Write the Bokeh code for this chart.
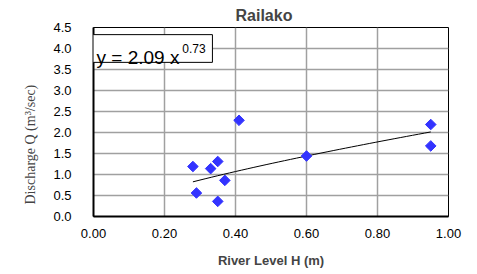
from bokeh.plotting import figure
from bokeh.models import (Range1d, SingleIntervalTicker, NumeralTickFormatter,
                          BoxAnnotation, Label, Title)
from bokeh.embed import file_html
from bokeh.resources import INLINE
import numpy as np

# data
river_level = [0.28, 0.29, 0.33, 0.35, 0.35, 0.37, 0.41, 0.60, 0.95, 0.95]
discharge = [1.19, 0.56, 1.14, 1.31, 0.36, 0.86, 2.29, 1.44, 2.19, 1.68]
coef_a = 2.09
coef_b = 0.73
trend_x = np.linspace(0.28, 0.95, 40)
trend_y = coef_a * trend_x ** coef_b

p = figure(width=477, height=274, output_backend="svg", toolbar_location=None,
           x_range=Range1d(0, 1.0), y_range=Range1d(0, 4.5),
           min_border_left=93, min_border_right=29, min_border_top=27,
           min_border_bottom=58)
p.title = None
t = Title(text="Railako", align="left", text_font="Liberation Sans",
          text_font_size="16px", text_font_style="bold", offset=142, standoff=8)
p.add_layout(t, "above")

ylab = Title(text="Discharge Q (m³/sec)", align="left", offset=12, standoff=26,
             text_font="Liberation Serif", text_font_size="14px",
             text_font_style="normal")
p.add_layout(ylab, "left")

p.outline_line_color = "black"
p.outline_line_width = 1

for ax in (p.xaxis[0], p.yaxis[0]):
    ax.axis_line_color = "black"
    ax.axis_line_width = 2
    ax.major_tick_line_color = None
    ax.minor_tick_line_color = None
    ax.major_label_text_font = "Liberation Sans"
    ax.major_label_text_font_size = "13px"
    ax.major_label_text_color = "black"

p.xaxis[0].ticker = SingleIntervalTicker(interval=0.2)
p.yaxis[0].ticker = SingleIntervalTicker(interval=0.5)
p.xaxis[0].formatter = NumeralTickFormatter(format="0.00")
p.yaxis[0].formatter = NumeralTickFormatter(format="0.0")
p.xaxis[0].major_label_standoff = 6
p.yaxis[0].major_label_standoff = 16

p.xaxis[0].axis_label = "River Level H (m)"
p.xaxis[0].axis_label_text_font = "Liberation Sans"
p.xaxis[0].axis_label_text_font_style = "bold"
p.xaxis[0].axis_label_text_font_size = "13px"
p.xaxis[0].axis_label_standoff = 12

p.grid.grid_line_color = "#a0a0a0"
p.grid.grid_line_width = 1.5

p.line(trend_x, trend_y, line_color="black", line_width=1)
p.scatter(river_level, discharge, marker="square", angle=np.pi / 4, size=7.5,
          fill_color="#3333ff", line_color="#3333ff")

box = BoxAnnotation(left=-0.007, right=0.335, bottom=3.67, top=4.33,
                    fill_color="white", fill_alpha=1.0, line_color="black",
                    line_alpha=1.0, line_width=1, level="annotation")
p.add_layout(box)
p.add_layout(Label(x=0.0084, y=3.79, text="y = 2.09 x", text_font="Liberation Sans",
                   text_font_size="19px", text_baseline="alphabetic",
                   text_color="black", level="overlay"))
p.add_layout(Label(x=0.25, y=3.99, text="0.73", text_font="Liberation Sans",
                   text_font_size="12px", text_baseline="alphabetic",
                   text_color="black", level="overlay"))

open("out.html", "w").write(file_html(p, INLINE))
